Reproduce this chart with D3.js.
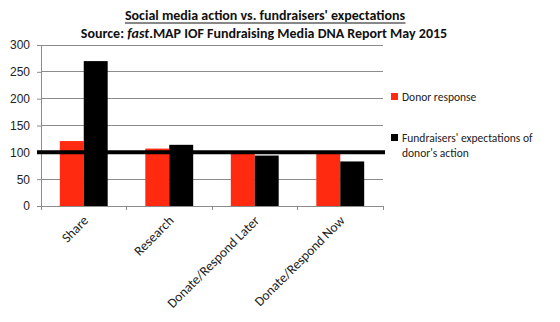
<!DOCTYPE html>
<html>
<head>
<meta charset="utf-8">
<script src="https://cdn.jsdelivr.net/npm/d3@7"></script>
<style>
  body { margin: 0; background: #fff; }
  svg { display: block; font-family: Carlito, "Open Sans", "Liberation Sans", sans-serif; }
</style>
</head>
<body>
<svg id="chart" width="560" height="322"></svg>
<script>
// Chart data
const categories = ["Share", "Research", "Donate/Respond Later", "Donate/Respond Now"];
const donorResponse = [121, 107, 99, 99];
const fundraiserExpectations = [270, 114, 94, 83];
const yTicks = [0, 50, 100, 150, 200, 250, 300];
const referenceValue = 100;
const seriesNames = ["Donor response", "Fundraisers' expectations of donor's action"];
const seriesColors = ["#ff2a10", "#000000"];

const svg = d3.select("#chart");
svg.append("rect").attr("width", 560).attr("height", 322).attr("fill", "#fff");

const plot = { left: 41, right: 383, top: 45, bottom: 206 };

const x = d3.scaleBand().domain(categories).range([plot.left, plot.right]).paddingInner(0.44).paddingOuter(0.22);
const xs = d3.scaleBand().domain([0, 1]).range([0, x.bandwidth()]);
const y = d3.scaleLinear().domain([0, 300]).range([plot.bottom, plot.top]);

// Gridlines
svg.append("g").selectAll("line").data(yTicks.filter(t => t > 0)).join("line")
  .attr("x1", plot.left).attr("x2", plot.right)
  .attr("y1", d => y(d)).attr("y2", d => y(d))
  .attr("stroke", "#8c8c8c").attr("stroke-width", 1).attr("shape-rendering", "crispEdges");

// Y axis
const yAxis = svg.append("g").attr("transform", `translate(${plot.left},0)`)
  .call(d3.axisLeft(y).tickValues(yTicks).tickSize(4).tickPadding(7));
yAxis.select(".domain").attr("stroke", "#8c8c8c");
yAxis.selectAll(".tick line").attr("stroke", "#8c8c8c");
yAxis.selectAll("text").attr("font-size", 12).attr("fill", "#222").attr("font-family", "Liberation Sans, sans-serif");

// X axis
const xAxis = svg.append("g").attr("transform", `translate(0,${plot.bottom})`);
xAxis.append("line").attr("x1", plot.left).attr("x2", plot.right).attr("y1", 0).attr("y2", 0)
  .attr("stroke", "#8c8c8c").attr("shape-rendering", "crispEdges");
const bounds = categories.map((c, i) => i === 0 ? plot.left : (x(categories[i - 1]) + x.bandwidth() + x(c)) / 2);
bounds.push(plot.right);
xAxis.selectAll("line.tk").data(bounds).join("line").attr("class", "tk")
  .attr("x1", d => d).attr("x2", d => d).attr("y1", 0).attr("y2", 4)
  .attr("stroke", "#8c8c8c").attr("shape-rendering", "crispEdges");
xAxis.selectAll("text").data(categories).join("text")
  .attr("transform", d => `translate(${x(d) + x.bandwidth() / 2 + 2},12) rotate(-45)`)
  .attr("text-anchor", "end").attr("dy", "0.35em")
  .attr("font-size", 13.5).attr("fill", "#222")
  .text(d => d);

// Bars
const groups = svg.append("g").selectAll("g").data(categories).join("g")
  .attr("transform", d => `translate(${x(d)},0)`);
groups.append("rect")
  .attr("x", xs(0)).attr("width", xs.bandwidth())
  .attr("y", (d, i) => y(donorResponse[i])).attr("height", (d, i) => y(0) - y(donorResponse[i]))
  .attr("fill", seriesColors[0]);
groups.append("rect")
  .attr("x", xs(1)).attr("width", xs.bandwidth())
  .attr("y", (d, i) => y(fundraiserExpectations[i])).attr("height", (d, i) => y(0) - y(fundraiserExpectations[i]))
  .attr("fill", seriesColors[1]);

// Reference line at 100
svg.append("line")
  .attr("x1", plot.left - 4).attr("x2", plot.right + 2)
  .attr("y1", y(referenceValue)).attr("y2", y(referenceValue))
  .attr("stroke", "#000").attr("stroke-width", 4);

// Title
const title = svg.append("text").attr("x", 265).attr("y", 20).attr("text-anchor", "middle")
  .attr("font-size", 14).attr("font-weight", "bold").attr("fill", "#111")
  .text("Social media action vs. fundraisers' expectations");
const tb = title.node().getBBox();
svg.append("line").attr("x1", tb.x).attr("x2", tb.x + tb.width)
  .attr("y1", 23).attr("y2", 23).attr("stroke", "#111").attr("stroke-width", 1);

const sub = svg.append("text").attr("x", 264).attr("y", 38).attr("text-anchor", "middle")
  .attr("font-size", 14).attr("font-weight", "bold").attr("fill", "#111");
sub.append("tspan").text("Source: ");
sub.append("tspan").attr("font-style", "italic").text("fast");
sub.append("tspan").text(".MAP IOF Fundraising Media DNA Report May 2015");

// Legend
const legend = svg.append("g").attr("font-size", 11.5).attr("fill", "#222");
legend.append("rect").attr("x", 391).attr("y", 93).attr("width", 7).attr("height", 7).attr("fill", seriesColors[0]);
legend.append("text").attr("x", 402).attr("y", 101).text(seriesNames[0]);
legend.append("rect").attr("x", 391).attr("y", 134).attr("width", 7).attr("height", 7).attr("fill", seriesColors[1]);
const lt = legend.append("text").attr("x", 402).attr("y", 142);
lt.append("tspan").attr("x", 402).text("Fundraisers' expectations of");
lt.append("tspan").attr("x", 402).attr("dy", 15).text("donor's action");
</script>
</body>
</html>
